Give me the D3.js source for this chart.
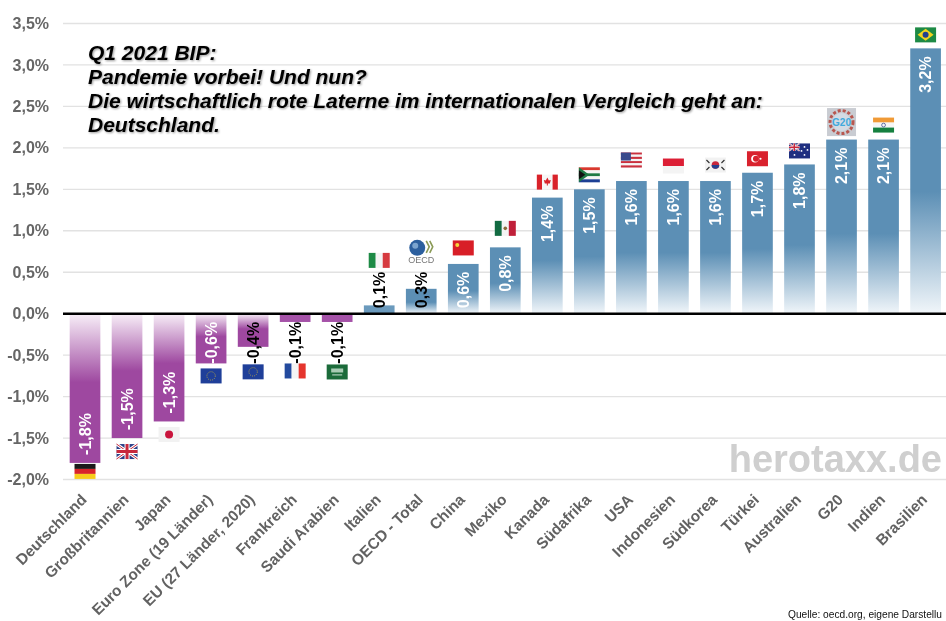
<!DOCTYPE html>
<html lang="de">
  <head>
    <meta charset="utf-8">
    <title>Q1 2021 BIP</title>
    <script src="https://cdn.jsdelivr.net/npm/d3@7"></script>
    <style>
      html, body { margin: 0; padding: 0; background: #fff; overflow: hidden; }
      svg { display: block; font-family: "Liberation Sans", Arial, sans-serif; filter: blur(0.4px); }
      .grid line { stroke: #e2e2e2; stroke-width: 1.3px; }
      .axis path, .axis line { display: none; }
      .y-axis text { font-size: 16px; font-weight: bold; fill: #666; }
      .x-axis text { font-size: 15.4px; font-weight: bold; fill: #626262; }
      .value-label { font-size: 16px; font-weight: bold; }
      .title { font-size: 21px; font-weight: bold; font-style: italic; fill: #000;
               filter: drop-shadow(1px 1px 1px rgba(0,0,0,.4)); }
      .brand { font-size: 38px; font-weight: bold; fill: #cfcfcf; }
      .source { font-size: 10.2px; fill: #111; }
    </style>
  </head>
  <body>
    <script>
      var w = 946;
      var h = 621;

      var categories = ["Deutschland", "Großbritannien", "Japan", "Euro Zone (19 Länder)",
        "EU (27 Länder, 2020)", "Frankreich", "Saudi Arabien", "Italien", "OECD - Total",
        "China", "Mexiko", "Kanada", "Südafrika", "USA", "Indonesien", "Südkorea", "Türkei",
        "Australien", "G20", "Indien", "Brasilien"];
      var values = [-1.8, -1.5, -1.3, -0.6, -0.4, -0.1, -0.1, 0.1, 0.3, 0.6, 0.8, 1.4, 1.5,
        1.6, 1.6, 1.6, 1.7, 1.8, 2.1, 2.1, 3.2];
      var darkLabels = ["EU (27 Länder, 2020)", "Frankreich", "Saudi Arabien", "Italien", "OECD - Total"];
      var flagCodes = ["de", "gb", "jp", "eu", "eu", "fr", "sa", "it", "oecd", "cn", "mx", "ca",
        "za", "us", "id", "kr", "tr", "au", "g20", "in", "br"];
      var yTicks = [-2, -1.5, -1, -0.5, 0, 0.5, 1, 1.5, 2, 2.5, 3, 3.5];
      var titleLines = ["Q1 2021 BIP:", "Pandemie vorbei! Und nun?",
        "Die wirtschaftlich rote Laterne im internationalen Vergleich geht an:", "Deutschland."];

      // gap between bar end and flag centre, the flags sit a bit uneven in the original
      var flagGap = [8.5, 13.5, 13, 12.5, 25, 49, 50, 45, 37, 16, 19, 15.5, 14.5, 21, 15, 16, 14, 13.5, 17.5, 14.5, 13.5];

      var comma = function(v) { return d3.format(".1f")(v).replace(".", ",").replace("−", "-") + "%"; };

      var svg = d3.select("body").append("svg")
        .attr("width", w)
        .attr("height", h);

      var xScale = d3.scaleBand()
        .domain(categories)
        .range([64, 946.6])
        .paddingInner(0.27)
        .paddingOuter(0.135);
      var yScale = d3.scaleLinear()
        .domain([-2, 3.5])
        .range([479.5, 23.5]);

      var defs = svg.append("defs");
      function fade(id, colour, pale, negative) {
        var g = defs.append("linearGradient").attr("id", id).attr("x1", 0).attr("x2", 0).attr("y1", 0).attr("y2", 1);
        var stops = negative ? [[0, pale], [0.46, colour], [1, colour]] : [[0, colour], [0.54, colour], [1, pale]];
        stops.forEach(function(s) { g.append("stop").attr("offset", s[0]).attr("stop-color", s[1]); });
      }
      fade("fade-pos", "#5c8fb5", "#f1f6fa", false);
      fade("fade-neg", "#9e48a0", "#f8eff8", true);

      // grid
      svg.append("g").attr("class", "grid")
        .selectAll("line")
        .data(yTicks.filter(function(d) { return d !== 0; }))
        .enter().append("line")
        .attr("x1", 63).attr("x2", w)
        .attr("y1", function(d) { return yScale(d); })
        .attr("y2", function(d) { return yScale(d); });

      // axes
      var yAxis = d3.axisLeft(yScale).tickValues(yTicks).tickFormat(comma).tickSize(0).tickPadding(0);
      svg.append("g").attr("class", "axis y-axis")
        .attr("transform", "translate(49,0)")
        .call(yAxis);

      var xAxis = d3.axisBottom(xScale).tickSize(0).tickPadding(0);
      svg.append("g").attr("class", "axis x-axis")
        .attr("transform", "translate(-5,493)")
        .call(xAxis)
        .selectAll("text")
          .attr("text-anchor", "end")
          .attr("dy", "0.7em")
          .attr("transform", "rotate(-45)");

      // bars
      var rows = categories.map(function(c, i) { return { name: c, value: values[i], flag: flagCodes[i], gap: flagGap[i] }; });

      svg.selectAll("rect.bar")
        .data(rows)
        .enter().append("rect")
        .attr("class", "bar")
        .attr("x", function(d) { return xScale(d.name); })
        .attr("width", xScale.bandwidth())
        .attr("y", function(d) { return yScale(Math.max(d.value, 0)); })
        .attr("height", function(d) { return Math.abs(yScale(d.value) - yScale(0)); })
        .attr("fill", function(d) {
          if (Math.abs(d.value) < 0.2) return d.value > 0 ? "#6b9abd" : "#a552a8";
          return d.value > 0 ? "url(#fade-pos)" : "url(#fade-neg)";
        });

      // zero line
      svg.append("line")
        .attr("x1", 63).attr("x2", w)
        .attr("y1", yScale(0)).attr("y2", yScale(0))
        .attr("stroke", "#000").attr("stroke-width", 2.5);

      // value labels, short bars keep the label next to the zero line
      var y0 = yScale(0);
      svg.selectAll("text.value-label")
        .data(rows)
        .enter().append("text")
        .attr("class", "value-label")
        .attr("text-anchor", function(d) { return d.value > 0 ? "end" : "start"; })
        .attr("dy", "0.36em")
        .attr("fill", function(d) { return darkLabels.indexOf(d.name) >= 0 ? "#000" : "#fff"; })
        .attr("transform", function(d) {
          var cx = xScale(d.name) + xScale.bandwidth() / 2;
          var py = d.value > 0 ? Math.min(yScale(d.value) + 8, y0 - 42) : Math.max(yScale(d.value) - 8, y0 + 50);
          return "translate(" + cx + "," + py + ") rotate(-90)";
        })
        .text(function(d) { return comma(d.value); });

      // flags, drawn in a small local box of 21 x 15 around the centre
      function stripes(g, cols, vertical) {
        cols.forEach(function(c, i) {
          if (vertical) g.append("rect").attr("x", -10.5 + i * 21 / cols.length).attr("y", -7.5).attr("width", 21 / cols.length).attr("height", 15).attr("fill", c);
          else g.append("rect").attr("x", -10.5).attr("y", -7.5 + i * 15 / cols.length).attr("width", 21).attr("height", 15 / cols.length).attr("fill", c);
        });
      }
      function unionJack(g, x, y, sx, sy) {
        var u = g.append("g").attr("transform", "translate(" + x + "," + y + ") scale(" + sx + "," + sy + ")");
        u.append("rect").attr("x", -10.5).attr("y", -7.5).attr("width", 21).attr("height", 15).attr("fill", "#2b3f87");
        u.append("path").attr("d", "M-10.5-7.5L10.5 7.5M10.5-7.5L-10.5 7.5").attr("stroke", "#fff").attr("stroke-width", 3);
        u.append("path").attr("d", "M-10.5-7.5L10.5 7.5M10.5-7.5L-10.5 7.5").attr("stroke", "#c8283c").attr("stroke-width", 1);
        u.append("path").attr("d", "M0-7.5V7.5M-10.5 0H10.5").attr("stroke", "#fff").attr("stroke-width", 5);
        u.append("path").attr("d", "M0-7.5V7.5M-10.5 0H10.5").attr("stroke", "#c8283c").attr("stroke-width", 3);
      }
      var flagDraw = {
        de: function(g) { stripes(g, ["#1a1a1a", "#d8232a", "#f7cc1b"]); },
        gb: function(g) { unionJack(g, 0, 0, 1, 1); },
        jp: function(g) {
          stripes(g, ["#f2f2f2"]);
          g.append("circle").attr("r", 4).attr("fill", "#c9143c");
        },
        eu: function(g) {
          stripes(g, ["#1f3f99"]);
          g.append("circle").attr("r", 4.2).attr("fill", "none").attr("stroke", "#c9b23a").attr("stroke-width", 0.8).attr("stroke-dasharray", "1 1.2");
        },
        fr: function(g) { stripes(g, ["#234a9e", "#f4f4f4", "#e5352d"], true); },
        sa: function(g) {
          stripes(g, ["#1b6b3a"]);
          g.append("rect").attr("x", -6).attr("y", -3.5).attr("width", 12).attr("height", 4).attr("fill", "#a8cbb4");
          g.append("rect").attr("x", -5).attr("y", 2.5).attr("width", 10).attr("height", 0.9).attr("fill", "#dfeee4");
        },
        it: function(g) { stripes(g, ["#1d8a45", "#f4f4f4", "#d63a3f"], true); },
        oecd: function(g) {
          g.append("circle").attr("cx", -4).attr("cy", -4).attr("r", 8).attr("fill", "#2c5f9e");
          g.append("circle").attr("cx", -6).attr("cy", -6).attr("r", 3).attr("fill", "#7ba4cf");
          g.append("path").attr("d", "M5-11L8-5L5 1M8.5-11L11.5-5L8.5 1").attr("fill", "none").attr("stroke", "#8a9a55").attr("stroke-width", 1.6);
          g.append("text").attr("y", 11.5).attr("text-anchor", "middle").attr("font-size", 9).attr("fill", "#777").text("OECD");
        },
        cn: function(g) {
          stripes(g, ["#d81e27"]);
          g.append("circle").attr("cx", -6).attr("cy", -3).attr("r", 2).attr("fill", "#f6d33c");
        },
        mx: function(g) {
          stripes(g, ["#126b42", "#f4f4f4", "#c0203a"], true);
          g.append("circle").attr("r", 1.8).attr("fill", "#8a6a3a");
        },
        ca: function(g) {
          stripes(g, ["#d9222a", "#f6f6f6", "#f6f6f6", "#d9222a"], true);
          g.append("path").attr("d", "M0-4.5L1.5-1.5L3.5-2L2.5 1.5H0.5V3.5H-0.5V1.5H-2.5L-3.5-2L-1.5-1.5Z").attr("fill", "#d9222a");
        },
        za: function(g) {
          stripes(g, ["#d9382e", "#f4f4f4", "#1f7a45", "#f4f4f4", "#1d3f94"]);
          g.append("path").attr("d", "M-10.5-7.5L0 0L-10.5 7.5Z").attr("fill", "#1f7a45");
          g.append("path").attr("d", "M-10.5-4.5L-4 0L-10.5 4.5Z").attr("fill", "#111");
        },
        us: function(g) {
          stripes(g, ["#c9303e", "#f4f4f4", "#c9303e", "#f4f4f4", "#c9303e", "#f4f4f4", "#c9303e"]);
          g.append("rect").attr("x", -10.5).attr("y", -7.5).attr("width", 10).attr("height", 8).attr("fill", "#3a4a8c");
        },
        id: function(g) { stripes(g, ["#dc1f35", "#f4f4f4"]); },
        kr: function(g) {
          stripes(g, ["#f2f2f2"]);
          g.append("circle").attr("r", 3.8).attr("fill", "#c8263c");
          g.append("path").attr("d", "M-3.8 0A3.8 3.8 0 0 0 3.8 0Z").attr("fill", "#24408f");
          g.append("path").attr("d", "M-9-5L-6-2M9-5L6-2M-9 5L-6 2M9 5L6 2").attr("stroke", "#333").attr("stroke-width", 1.2);
        },
        tr: function(g) {
          stripes(g, ["#d9222e"]);
          g.append("circle").attr("cx", -2.5).attr("r", 3.8).attr("fill", "#fff");
          g.append("circle").attr("cx", -1.5).attr("r", 3).attr("fill", "#d9222e");
          g.append("circle").attr("cx", 3).attr("r", 1.1).attr("fill", "#fff");
        },
        au: function(g) {
          stripes(g, ["#1f2f80"]);
          unionJack(g, -5.25, -3.75, 0.5, 0.5);
          g.selectAll("circle.star").data([[5, -4], [8, -1], [2, 0], [5, 4], [-5, 4]]).enter().append("circle")
            .attr("cx", function(d) { return d[0]; }).attr("cy", function(d) { return d[1]; }).attr("r", 0.9).attr("fill", "#fff");
        },
        g20: function(g) {
          g.append("rect").attr("x", -14.5).attr("y", -14).attr("width", 29).attr("height", 28).attr("fill", "#c9ccd2");
          g.append("circle").attr("r", 11.5).attr("fill", "none").attr("stroke", "#b8574f").attr("stroke-width", 3).attr("stroke-dasharray", "3 2");
          g.append("circle").attr("r", 9).attr("fill", "#d3dbe4");
          g.append("text").attr("y", 3.5).attr("text-anchor", "middle").attr("font-size", 10).attr("font-weight", "bold").attr("fill", "#3fa9dc").text("G20");
        },
        in: function(g) {
          stripes(g, ["#f09a36", "#f6f6f6", "#15803f"]);
          g.append("circle").attr("r", 1.9).attr("fill", "none").attr("stroke", "#2b3f87").attr("stroke-width", 0.7);
        },
        br: function(g) {
          stripes(g, ["#1d8a45"]);
          g.append("path").attr("d", "M-8 0L0-6L8 0L0 6Z").attr("fill", "#f3d21f");
          g.append("circle").attr("r", 3).attr("fill", "#22408f");
        }
      };

      svg.selectAll("g.flag")
        .data(rows)
        .enter().append("g")
        .attr("class", "flag")
        .attr("transform", function(d) {
          var cx = xScale(d.name) + xScale.bandwidth() / 2;
          var cy = yScale(d.value) + (d.value > 0 ? -d.gap : d.gap);
          return "translate(" + cx + "," + cy + ")";
        })
        .each(function(d) { flagDraw[d.flag](d3.select(this)); });

      // title
      svg.append("g").selectAll("text")
        .data(titleLines)
        .enter().append("text")
        .attr("class", "title")
        .attr("x", 88)
        .attr("y", function(d, i) { return 59.5 + i * 24.1; })
        .text(function(d) { return d; });

      svg.append("text").attr("class", "brand").attr("x", 942).attr("y", 472).attr("text-anchor", "end").text("herotaxx.de");
      svg.append("text").attr("class", "source").attr("x", 788).attr("y", 618).text("Quelle: oecd.org, eigene Darstellu");
    </script>
  </body>
</html>
